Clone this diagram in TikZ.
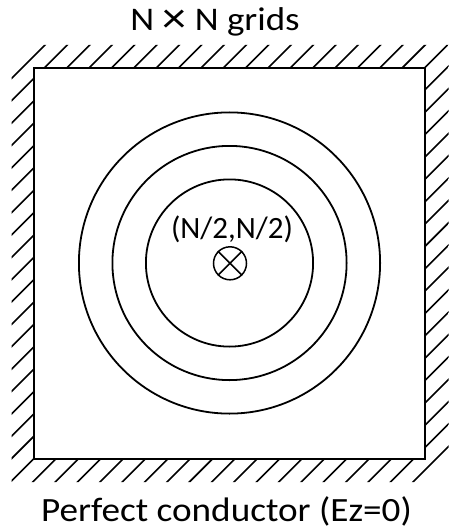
\documentclass[tikz,border=0pt]{standalone}
\usepackage{fontspec}
\setmainfont{Carlito}
\begin{document}
\begin{tikzpicture}[x=1pt,y=-1pt,
  edge/.style={line width=1.9pt},
  hatchline/.style={line width=1.6pt},
  ring/.style={line width=1.8pt},
  lbl/.style={inner sep=0pt,anchor=base}]
\useasboundingbox (0,0) rectangle (452,532);
% hatching in the frame band
\begin{scope}[even odd rule]
  \clip (11.5,45) rectangle (448.5,482) (34,68) rectangle (425,459);
  \foreach \k in {0,...,36}{
    \pgfmathsetmacro{\c}{90+22.36*\k}
    \draw[hatchline] (\c-500,500) -- (\c,0);
  }
\end{scope}
\draw[edge] (34,68) rectangle (425,459);
% circles
\coordinate (ctr) at (229.5,263);
\draw[ring] (ctr) circle[radius=83.6];
\draw[ring] (ctr) circle[radius=117.1];
\draw[ring] (ctr) circle[radius=150.6];
% source
\node[draw,circle,line width=1.5pt,minimum size=33pt,inner sep=0pt] (src) at (230,263.3) {};
\draw[line width=1.5pt] (src.45) -- (src.225) (src.135) -- (src.315);
\node[lbl,font=\fontsize{31}{31}\selectfont] (pos) at (232,238.3) {(N/2,N/2)};
\node[lbl,font=\fontsize{33}{33}\selectfont] (title) at (215,31)
  {\scalebox{1.12}[1]{N \raisebox{-2pt}{\scalebox{1.3}{×}} N grids}};
\node[lbl,font=\fontsize{34}{34}\selectfont] (caption) at (226.5,521.7)
  {\scalebox{1.094}[1]{Perfect conductor (Ez=0)}};
\end{tikzpicture}
\end{document}
